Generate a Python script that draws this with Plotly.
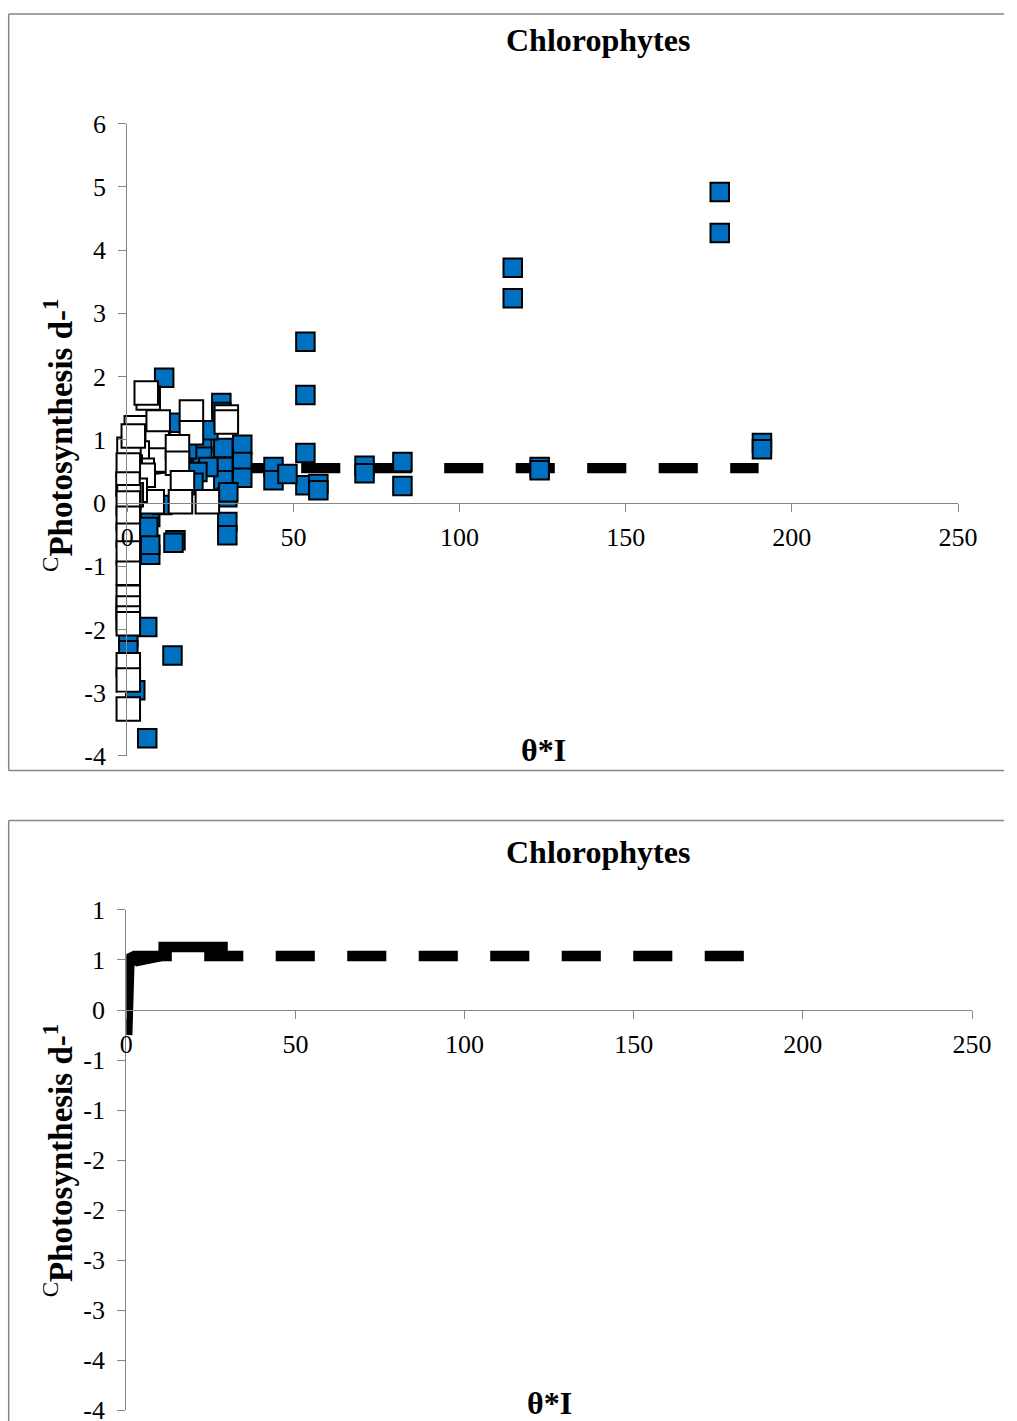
import plotly.graph_objects as go

# The photographed page shows the figure slightly shrunk and shifted;
# these factors map the wanted picture pixels back into figure pixels.
SX, SY = 0.9728, 0.9794
OX, OY = 7.0, 14.7
W, H = 1024, 1436

# ---------------- data ----------------
x_ticks = [0, 50, 100, 150, 200, 250]
top_y_ticks = [-4, -3, -2, -1, 0, 1, 2, 3, 4, 5, 6]
top_y_ticktext = ["-4", "-3", "-2", "-1", "0", "1", "2", "3", "4", "5", "6"]
bot_y_tickvals = [-4, -3.5, -3, -2.5, -2, -1.5, -1, -0.5, 0, 0.5, 1]
bot_y_ticktext = ["-4", "-4", "-3", "-3", "-2", "-2", "-1", "-1", "0", "1", "1"]

# observed (blue) points, top chart
blue_x = [178.3, 178.3, 116.0, 116.0, 53.6, 53.6, 53.6, 53.6, 57.5, 57.5,
          44.0, 44.0, 48.2, 71.4, 71.4, 82.8, 82.8, 124.1, 124.1, 191.0, 191.0,
          11.1, 28.3, 28.3, 34.6, 34.6, 34.6, 28.9, 28.9, 28.9, 30.1, 30.1, 30.1,
          22.6, 22.6, 24.4, 21.1, 19.9, 24.4, 18.0, 14.5, 13.9, 6.9, 6.9, 6.9,
          6.3, 6.0, 13.6, 2.4, 6.0, 0.3, 0.3, 14.5, 10.5, 30.4]
blue_y = [4.92, 4.27, 3.72, 3.24, 2.55, 1.71, 0.79, 0.28, 0.30, 0.20,
          0.57, 0.36, 0.46, 0.59, 0.47, 0.65, 0.27, 0.57, 0.52, 0.95, 0.85,
          1.98, 1.58, 1.44, 0.92, 0.65, 0.40, 0.87, 0.57, 0.36, 0.09, -0.30, -0.51,
          0.95, 0.73, 0.57, 0.49, 0.32, 1.15, 0.85, -0.59, -0.63, -0.82, -0.66, -0.22,
          -0.38, -1.96, -2.41, -2.96, -3.72, -2.12, -2.33, 1.27, -0.03, 0.17]

# observed (white) points, top chart
white_x = [6.3, 5.7, 2.7, 9.3, 19.3, 19.3, 29.8, 29.8, 9.0, 9.0,
           3.0, 4.5, 15.1, 15.1, 0.9, 0.9, 16.6, 7.5, 16.0, 24.1,
           4.8, 2.4, 1.2, 0.5, 0.3, 0.2, 0.5, 1.8,
           0.3, 0.3, 0.3, 0.3, 0.3, 0.3, 0.3, 0.3, 0.3, 0.3, 0.3, 0.3]
white_y = [1.66, 1.74, 1.19, 1.28, 1.44, 1.11, 1.36, 1.28, 0.95, 0.68,
           0.79, 0.52, 0.89, 0.63, 0.57, 0.36, 0.32, 0.02, 0.02, 0.02,
           0.44, 0.20, 0.13, 0.85, 0.60, 0.30, 0.10, 1.06,
           0.00, -0.24, -0.51, -0.79, -1.11, -1.49, -1.66, -1.82, -1.91, -2.56, -2.80, -3.26]

# model lines, top chart
top_curve_x = [0.3, 0.5, 0.7, 1.0, 3.3, 7.0, 12.0]
top_curve_y = [-0.30, 0.10, 0.40, 0.55, 0.49, 0.52, 0.55]
top_plateau_x = [9.5, 29.5]
top_plateau_y = [0.63, 0.63]
top_dash_x = [9.3, 190.0]
top_dash_y = [0.55, 0.55]

# model lines, bottom chart
bot_curve_x = [0.3, 0.5, 0.7, 1.0, 3.3, 7.0, 12.0]
bot_curve_y = [-0.25, 0.10, 0.40, 0.55, 0.49, 0.52, 0.55]
bot_plateau_x = [9.5, 30.0]
bot_plateau_y = [0.63, 0.63]
bot_dash_x = [1.9, 192.0]
bot_dash_y = [0.54, 0.54]

# ---------------- layout helpers (picture pixels -> paper fraction) ----------------
def px_x(p):
    return min(1.0, max(0.0, (p / SX - OX) / W))

def px_y(p):
    return min(1.0, max(0.0, 1 - (p / SY - OY) / H))

FONT = "Liberation Serif"
AX = "#868686"
BLUE = "#0070C0"
DASH = "%.1fpx,%.1fpx" % (38 / SX, 31.5 / SX)
LW = 10 / SX

fig = go.Figure()

def line_trace(x, y, xa, ya, dash=None):
    return go.Scatter(x=x, y=y, mode="lines", xaxis=xa, yaxis=ya,
                      line=dict(color="black", width=LW, dash=dash or "solid"),
                      showlegend=False, hoverinfo="skip")

# top chart
fig.add_trace(line_trace(top_curve_x, top_curve_y, "x", "y"))
fig.add_trace(line_trace(top_plateau_x, top_plateau_y, "x", "y"))
fig.add_trace(line_trace(top_dash_x, top_dash_y, "x", "y", DASH))
fig.add_trace(go.Scatter(x=blue_x, y=blue_y, mode="markers", xaxis="x", yaxis="y",
                         marker=dict(symbol="square", size=18.5, color=BLUE,
                                     line=dict(color="black", width=2)),
                         cliponaxis=False, showlegend=False))
fig.add_trace(go.Scatter(x=white_x, y=white_y, mode="markers", xaxis="x", yaxis="y",
                         marker=dict(symbol="square", size=23.5, color="white",
                                     line=dict(color="black", width=2)),
                         cliponaxis=False, showlegend=False))

# bottom chart
fig.add_trace(line_trace(bot_curve_x, bot_curve_y, "x2", "y2"))
fig.add_trace(line_trace(bot_plateau_x, bot_plateau_y, "x2", "y2"))
fig.add_trace(line_trace(bot_dash_x, bot_dash_y, "x2", "y2", DASH))

top_ydom = [px_y(756), px_y(124)]
bot_ydom = [px_y(1410), px_y(910)]
top_zero = top_ydom[0] + (0 - (-4)) / 10 * (top_ydom[1] - top_ydom[0])
bot_zero = bot_ydom[0] + (0 - (-4)) / 5 * (bot_ydom[1] - bot_ydom[0])

tickfont = dict(family=FONT, size=26, color="black")
common_x = dict(range=[0, 250], tickvals=x_ticks, showgrid=False, zeroline=False,
                showline=True, linecolor=AX, linewidth=1.3, ticks="outside",
                ticklen=8, tickwidth=1.3, tickcolor=AX, tickfont=tickfont,
                ticklabelstandoff=3, fixedrange=True)
common_y = dict(showgrid=False, zeroline=False, showline=True, linecolor=AX,
                linewidth=1.3, ticks="outside", ticklen=8, tickwidth=1.3,
                tickcolor=AX, tickfont=tickfont, ticklabelstandoff=7, fixedrange=True)

fig.update_layout(
    width=W, height=H, margin=dict(l=0, r=0, t=0, b=0),
    paper_bgcolor="white", plot_bgcolor="rgba(0,0,0,0)",
    xaxis=dict(common_x, domain=[px_x(127), px_x(957)], anchor="free",
               position=top_zero),
    yaxis=dict(common_y, domain=top_ydom, range=[-4, 6], tickvals=top_y_ticks,
               ticktext=top_y_ticktext, anchor="x"),
    xaxis2=dict(common_x, domain=[px_x(126), px_x(971)], anchor="free",
                position=bot_zero),
    yaxis2=dict(common_y, domain=bot_ydom, range=[-4, 1], tickvals=bot_y_tickvals,
                ticktext=bot_y_ticktext, anchor="x2"),
)

# frames (left / top / bottom edges; the right edge lies outside the page)
frame_line = dict(color=AX, width=1.5)
for (x0, y0, x1, y1) in [(8.5, 7, 1040, 7), (8.5, 7, 8.5, 770.5),
                         (8.5, 770.5, 1040, 770.5),
                         (8.5, 820.5, 1040, 820.5), (8.5, 820.5, 8.5, 1460)]:
    fig.add_shape(type="line", xref="paper", yref="paper",
                  x0=px_x(x0), x1=px_x(x1), y0=px_y(y0), y1=px_y(y1),
                  line=frame_line, layer="below")

title_font = dict(family=FONT, size=32, color="black")
ytitle_font = dict(family=FONT, size=33, color="black")
ytitle = "<sup>C</sup><b>Photosynthesis d-</b><b><sup>1</sup></b>"
annos = [
    dict(text="<b>Chlorophytes</b>", x=px_x(597), y=px_y(40), font=title_font),
    dict(text="<b>θ*I</b>", x=px_x(543), y=px_y(750), font=title_font),
    dict(text=ytitle, x=px_x(58), y=px_y(435), textangle=-90, font=ytitle_font),
    dict(text="<b>Chlorophytes</b>", x=px_x(597), y=px_y(852), font=title_font),
    dict(text="<b>θ*I</b>", x=px_x(549), y=px_y(1403), font=title_font),
    dict(text=ytitle, x=px_x(58), y=px_y(1160), textangle=-90, font=ytitle_font),
]
for a in annos:
    fig.add_annotation(xref="paper", yref="paper", showarrow=False,
                       xanchor="center", yanchor="middle", **a)

fig.write_html("out.html")
